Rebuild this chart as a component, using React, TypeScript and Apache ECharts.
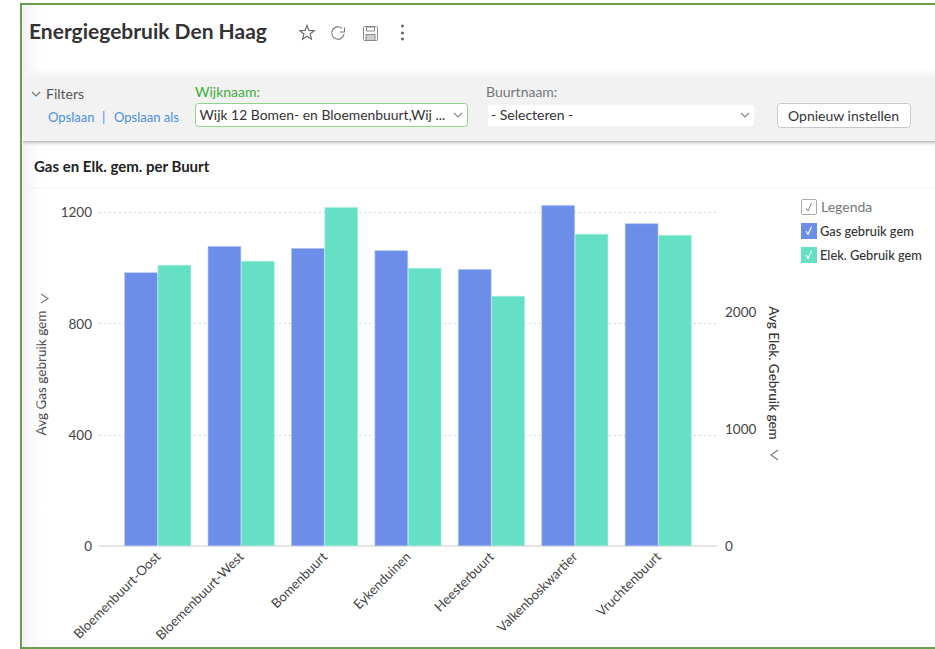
import React, { useEffect, useRef } from "react";
import * as echarts from "echarts";

const categories = ["Bloemenbuurt-Oost", "Bloemenbuurt-West", "Bomenbuurt", "Eykenduinen", "Heesterbuurt", "Valkenboskwartier", "Vruchtenbuurt"];
const gasValues = [984, 1078, 1071, 1063, 995, 1225, 1160];
const elekValues = [2402, 2436, 2897, 2376, 2137, 2667, 2658];
const leftTicks = [0, 400, 800, 1200];
const rightTicks = [0, 1000, 2000];
const BLUE = "#6c8ee9";
const GREEN = "#66e0c4";
const FONT = "Lato, 'Open Sans', sans-serif";

const text = (x: number, y: number, t: string, fontSize: number, fill: string, fontWeight: any = 400, extra: any = {}) => ({
  type: "text", x, y: y - 1, z: 20, style: { text: t, fontSize, fill, fontWeight, fontFamily: FONT, textVerticalAlign: "middle", verticalAlign: "middle", ...extra },
});
const line = (pts: number[][], stroke: string, lineWidth = 1.2, z = 21) => ({
  type: "polyline", z, shape: { points: pts }, style: { stroke, lineWidth, fill: "none" },
});
const chevron = (x: number, y: number, stroke = "#888") => line([[x - 4, y - 2], [x, y + 2], [x + 4, y - 2]], stroke);
const box = (x: number, y: number, w: number, h: number, fill: string, stroke?: string, r = 2, z = 5) => ({
  type: "rect", z, shape: { x, y, width: w, height: h, r }, style: { fill, stroke: stroke || "none", lineWidth: 1 },
});
const grad = (x2: number, y2: number, a: string, b: string) => new echarts.graphic.LinearGradient(0, 0, x2, y2, [{ offset: 0, color: a }, { offset: 1, color: b }]);

const starPts = (() => {
  const out: number[][] = [];
  for (let i = 0; i < 10; i++) {
    const r = i % 2 ? 3.2 : 7.6;
    const a = -Math.PI / 2 + (i * Math.PI) / 5;
    out.push([307 + r * Math.cos(a), 33 + r * Math.sin(a)]);
  }
  return out;
})();

const chrome: any[] = [
  // frame and panels
  { type: "rect", z: 0, shape: { x: 21, y: 4, width: 930, height: 644 }, style: { fill: "#fff", stroke: "#6a9f4f", lineWidth: 2 } },
  { type: "rect", z: 1, shape: { x: 23, y: 6, width: 24, height: 641 }, style: { fill: grad(1, 0, "#f1f1f1", "rgba(255,255,255,0)") } },
  { type: "rect", z: 2, shape: { x: 23, y: 68, width: 912, height: 11 }, style: { fill: grad(0, 1, "rgba(242,242,242,0)", "#f2f2f2") } },
  box(23, 79, 912, 62, "#f2f2f2", undefined, 0, 2),
  { type: "rect", z: 2, shape: { x: 23, y: 141, width: 912, height: 6 }, style: { fill: grad(0, 1, "#b5b5b5", "rgba(255,255,255,0)") } },
  { type: "line", z: 2, shape: { x1: 23, y1: 188, x2: 935, y2: 188 }, style: { stroke: "#f2f2f2", lineWidth: 1 } },
  // header
  text(29, 31, "Energiegebruik Den Haag", 21, "#333", 700),
  { type: "polygon", z: 21, shape: { points: starPts }, style: { fill: "none", stroke: "#666", lineWidth: 1.1 } },
  { type: "arc", z: 21, shape: { cx: 338, cy: 33, r: 6.2, startAngle: 0.2, endAngle: 5.4 }, style: { stroke: "#777", lineWidth: 1.1, fill: "none" } },
  line([[344.5, 27.5], [344.5, 32], [340, 32]], "#777", 1.1),
  box(363.5, 26.5, 14, 14, "none", "#888", 1, 21),
  box(366.5, 27, 8, 4, "none", "#888", 0, 21),
  box(366, 34.5, 9, 6, "#ccc", "#888", 0, 21),
  ...[26, 33, 39].map((cy) => ({ type: "circle", z: 21, shape: { cx: 402.5, cy, r: 1.5 }, style: { fill: "#666" } })),
  // filters
  chevron(36, 94, "#777"),
  text(46, 94, "Filters", 14, "#555"),
  text(48, 118, "Opslaan", 13, "#4a90e2"),
  text(102, 118, "|", 13, "#4a90e2"),
  text(114, 118, "Opslaan als", 13, "#4a90e2"),
  text(195, 92, "Wijknaam:", 14, "#3cae38"),
  box(195.5, 103.5, 272, 23, "#fff", "#8fd38a", 3, 5),
  text(199.5, 115, "Wijk 12 Bomen- en Bloemenbuurt,Wij ...", 13.9, "#333"),
  chevron(458, 115),
  text(486, 92, "Buurtnaam:", 14, "#777"),
  box(487, 104, 268, 23, "#fff", "#ececec", 3, 5),
  text(491, 115, "- Selecteren -", 14, "#333"),
  chevron(745, 115),
  box(777.5, 103.5, 133, 24, "#fff", "#c8c8c8", 3, 5),
  text(788, 116, "Opnieuw instellen", 14, "#333"),
  // chart heading
  text(34, 167, "Gas en Elk. gem. per Buurt", 15, "#222", 700),
  // axis hints
  line([[41, 294], [48, 298.5], [41, 303]], "#777", 1.1),
  line([[778, 450], [771, 455], [778, 460]], "#777", 1.1),
  // legend head and checks
  box(801.5, 199.5, 15, 15, "#fff", "#aaa", 1, 5),
  line([[806, 208], [808, 211], [811.5, 203]], "#888", 1),
  text(821, 207, "Legenda", 14, "#777"),
  line([[806, 231], [808, 234.5], [811.5, 226.5]], "#fff", 1.1, 30),
  line([[806, 255], [808, 258.5], [811.5, 250.5]], "#fff", 1.1, 30),
];

export default function App() {
  const ref = useRef<HTMLDivElement>(null);
  useEffect(() => {
    document.body.style.margin = "0";
    const chart = echarts.init(ref.current!, undefined, { renderer: "svg" });
    const labelStyle = { color: "#444", fontSize: 13.5, fontFamily: FONT, formatter: (v: any) => String(v) };
    const top = 190, height = 356;
    chart.setOption({
      animation: false,
      backgroundColor: "#fff",
      textStyle: { fontFamily: FONT },
      grid: [
        { left: 99, top, width: 618, height },
        { left: 116, top, width: 584, height },
      ],
      legend: {
        left: 801, top: 223, padding: 0, orient: "vertical", itemWidth: 16, itemHeight: 16, itemGap: 8, selectedMode: false,
        icon: "rect", itemStyle: { borderWidth: 0 },
        textStyle: { color: "#333", fontSize: 12.8, fontWeight: 500, fontFamily: FONT, padding: [0, 0, 2, -2] },
      },
      xAxis: [
        { type: "category", gridIndex: 0, data: categories, axisLabel: { show: false }, axisTick: { show: false }, axisLine: { lineStyle: { color: "#dcdcdc", width: 1.5 } } },
        {
          type: "category", gridIndex: 1, data: categories, axisTick: { show: false }, axisLine: { show: false },
          axisLabel: { rotate: 45, interval: 0, margin: 8, color: "#444", fontSize: 13.2, fontFamily: FONT },
        },
      ],
      yAxis: [
        {
          type: "value", gridIndex: 0, min: 0, max: 1280, interval: 400, name: "Avg Gas gebruik gem", nameLocation: "middle", nameGap: 51, nameRotate: 90,
          nameTextStyle: { color: "#333", fontSize: 13.5, fontWeight: 500, fontFamily: FONT, padding: [0, 10, 0, 0] },
          axisLine: { show: false }, axisTick: { show: false },
          axisLabel: { ...labelStyle, margin: 7, customValues: leftTicks },
          splitLine: { show: true, showMaxLine: false, showMinLine: false, lineStyle: { type: [2, 3], color: "#d4d4d4", width: 1 } },
        },
        {
          type: "value", gridIndex: 0, position: "right", min: 0, max: 3043, interval: 1000, name: "Avg Elek. Gebruik gem", nameLocation: "middle", nameGap: 49, nameRotate: -90,
          nameTextStyle: { color: "#333", fontSize: 13.5, fontWeight: 500, fontFamily: FONT, padding: [0, 0, 0, 10] },
          axisLine: { show: false }, axisTick: { show: false },
          axisLabel: { ...labelStyle, margin: 8, customValues: rightTicks },
          splitLine: { show: false },
        },
        { type: "value", gridIndex: 1, min: 0, max: 1280, show: false },
        { type: "value", gridIndex: 1, min: 0, max: 3043, show: false },
      ],
      series: [
        { name: "Gas gebruik gem", type: "bar", xAxisIndex: 1, yAxisIndex: 2, data: gasValues, barCategoryGap: "20%", barGap: 0, itemStyle: { color: BLUE, borderColor: "#a9bdf2", borderWidth: 0.6 } },
        { name: "Elek. Gebruik gem", type: "bar", xAxisIndex: 1, yAxisIndex: 3, data: elekValues, barCategoryGap: "20%", barGap: 0, itemStyle: { color: GREEN, borderColor: "#a6ecdc", borderWidth: 0.6 } },
      ],
      graphic: { elements: chrome },
    });
    return () => chart.dispose();
  }, []);
  return <div ref={ref} style={{ width: 935, height: 649 }} />;
}
